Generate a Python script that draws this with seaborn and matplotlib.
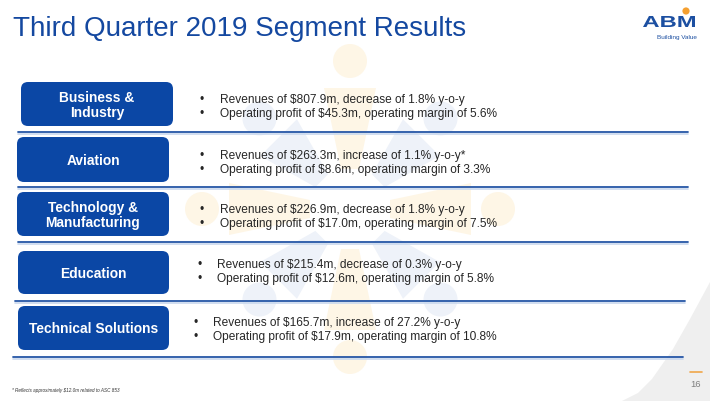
import numpy as np
import matplotlib
matplotlib.use("Agg")
import matplotlib.pyplot as plt
import seaborn as sns
from matplotlib.patches import FancyBboxPatch, Circle, Polygon, PathPatch
from matplotlib.textpath import TextPath
from matplotlib.font_manager import FontProperties
from matplotlib.transforms import Affine2D

# --- slide content ---
segments = ["Business &\nIndustry", "Aviation", "Technology &\nManufacturing",
            "Education", "Technical Solutions"]
revenues = [807.9, 263.3, 226.9, 215.4, 165.7]
rev_change = [-1.8, 1.1, -1.8, -0.3, 27.2]
rev_note = ["", "*", "", "", ""]
op_profit = [45.3, 8.6, 17.0, 12.6, 17.9]
op_margin = [5.6, 3.3, 7.5, 5.8, 10.8]
title = "Third Quarter 2019 Segment Results"
footnote = "* Reflects approximately $12.0m related to ASC 853"
page_no = "16"

sns.set_theme(style="white")
plt.rcParams["font.family"] = ["Liberation Sans", "DejaVu Sans"]

BLUE = "#0B47A5"
TITLE_BLUE = "#1448A0"
RULE = "#2556A6"
TXT = "#262626"

fig = plt.figure(figsize=(7.1, 4.02), dpi=100)
ax = fig.add_axes([0, 0, 1, 1])
ax.set_xlim(0, 710)
ax.set_ylim(402, 0)
ax.axis("off")

# faint people-ring watermark
cx, cy = 350, 210
for k in range(8):
    ang = np.deg2rad(-90 + 45 * k)
    col = "#FEF6E6" if k % 2 == 0 else "#EEF2F9"
    r_head = 148 if k % 2 == 0 else 128
    hx, hy = cx + r_head * np.cos(ang), cy + r_head * np.sin(ang)
    ax.add_patch(Circle((hx, hy), 17, fc=col, ec="none", zorder=0))
    ux, uy = np.cos(ang), np.sin(ang)
    px, py = -uy, ux
    r1, r2 = r_head - 27, 40
    pts = [(cx + r1 * ux + 26 * px, cy + r1 * uy + 26 * py),
           (cx + r1 * ux - 26 * px, cy + r1 * uy - 26 * py),
           (cx + r2 * ux - 9 * px, cy + r2 * uy - 9 * py),
           (cx + r2 * ux + 9 * px, cy + r2 * uy + 9 * py)]
    ax.add_patch(Polygon(pts, closed=True, fc=col, ec="none", zorder=0))

# bottom-right grey swoosh
ax.add_patch(Polygon([(710, 283), (690, 320), (673, 350), (652, 380),
                      (638, 394), (622, 402), (710, 402)],
                     closed=True, fc="#EFEFEF", ec="none", zorder=0))

# title
ax.text(13, 36, title, fontsize=20, color=TITLE_BLUE, va="baseline", ha="left")

# logo
fp = FontProperties(family="Liberation Sans", weight="bold")
tp = TextPath((0, 0), "ABM", size=1, prop=fp)
bb = tp.get_extents()
tr = Affine2D().translate(-bb.x0, -bb.y0).scale(52 / bb.width, -11 / bb.height).translate(643, 28)
ax.add_patch(PathPatch(tr.transform_path(tp), fc="#1C4FA1", ec="none", zorder=3))
ax.add_patch(Circle((686, 12), 3.6, fc="#F5A030", ec="none", zorder=3))
ax.text(697, 37, "Building Value", fontsize=4.6, color="#1C4FA1", ha="right", va="center")

# rows
box_y = [(83, 127), (138, 183), (193, 237), (252, 295), (307, 351)]
box_x = [(21, 173), (17, 169), (17, 169), (18, 169), (18, 169)]
rule_y = [133, 188, 243, 302, 358]
rule_x = [(18, 688), (18, 688), (18, 688), (15, 685), (13, 683)]
bullet_x = [200, 200, 200, 197, 193]
text_x = [220, 220, 220, 217, 213]
base_y = [(102.5, 116.5), (159.5, 173), (213.5, 227.5), (268.5, 282.5), (326.5, 340.5)]

for i, seg in enumerate(segments):
    (x0, x1), (y0, y1) = box_x[i], box_y[i]
    ax.add_patch(FancyBboxPatch((x0, y0), x1 - x0, y1 - y0,
                                boxstyle="round,pad=0,rounding_size=7",
                                fc=BLUE, ec="none", zorder=2))
    ax.text((x0 + x1) / 2, (y0 + y1) / 2 + 0.5, seg, color="white", fontsize=9.9,
            fontweight="bold", ha="center", va="center", linespacing=1.15, zorder=3)

    word = "increase" if rev_change[i] > 0 else "decrease"
    line1 = f"Revenues of ${revenues[i]:.1f}m, {word} of {abs(rev_change[i]):.1f}% y-o-y{rev_note[i]}"
    line2 = f"Operating profit of ${op_profit[i]:.1f}m, operating margin of {op_margin[i]:.1f}%"
    for yb, ln in zip(base_y[i], [line1, line2]):
        ax.text(bullet_x[i], yb, "\u2022", fontsize=8.6, color=TXT, ha="left", va="baseline")
        ax.text(text_x[i], yb, ln, fontsize=8.6, color=TXT, ha="left", va="baseline",
                parse_math=False)

    rx0, rx1 = rule_x[i]
    ax.plot([rx0, rx1], [rule_y[i] + 1.6, rule_y[i] + 1.6], color="#C9D8EE", lw=1.2, zorder=1)
    ax.plot([rx0, rx1], [rule_y[i], rule_y[i]], color=RULE, lw=1.3, zorder=2)

# footer
ax.text(12, 391, footnote, fontsize=3.3, style="italic", color="#333333",
        ha="left", va="center", parse_math=False)
ax.plot([690, 702], [373, 373], color="#F0A64A", lw=1.2)
ax.text(696, 385, page_no, fontsize=6.8, color="#7F7F7F", ha="center", va="center")

fig.savefig("out.png", dpi=100)
